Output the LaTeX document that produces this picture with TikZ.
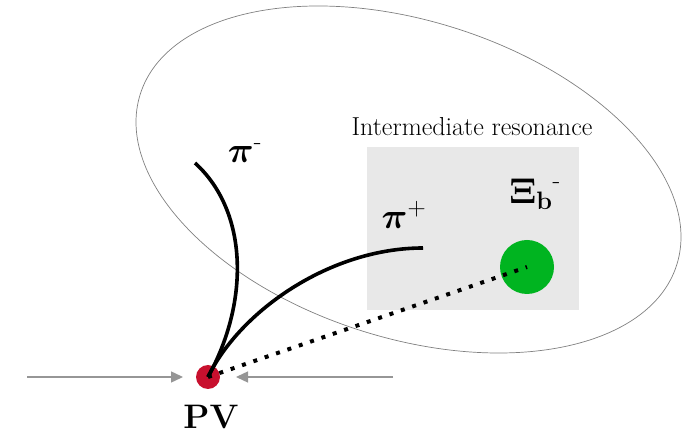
\RequirePackage{fix-cm}
\documentclass[tikz,border=0pt]{standalone}
\usepackage{amsmath, amssymb}
\usepackage{bm}
\usepackage{tikz}
\usetikzlibrary{arrows.meta,positioning}

\begin{document}
\begin{tikzpicture}[x=1pt,y=1pt]
    % Colors and styles
    \definecolor{pvred}{RGB}{200, 16, 46} % vertex red
    \definecolor{xigreen}{RGB}{0, 180, 32} % resonance green
    \definecolor{boxgray}{RGB}{232, 232, 232}
    \definecolor{beamgray}{RGB}{150, 150, 150}
    \tikzset{
        track/.style={black, line width=3.6pt},
        beam/.style={beamgray, line width=1.4pt, -{Triangle[length=12pt,width=11pt]}},
        bigmath/.style={font=\fontsize{36}{42}\selectfont, inner sep=0pt}
    }
    \useasboundingbox (0,0) rectangle (692,441);

    % Decay region
    \draw[gray, line width=0.7pt, rotate around={-17.7:(408.5,261.5)}] (408.5,261.5) ellipse (281.5 and 158.4);

    % Intermediate resonance box
    \node[fill=boxgray, minimum width=212pt, minimum height=163pt, inner sep=0pt] (res) at (473,212.5) {};
    \node[anchor=base, font=\fontsize{26}{30}\selectfont, inner sep=0pt] (restext) at (472,305) {Intermediate resonance};

    % Vertices
    \node[circle, fill=pvred, minimum size=24pt, inner sep=0pt] (pv) at (208,64) {};
    \node[circle, fill=xigreen, minimum size=54pt, inner sep=0pt] (xi) at (527,174) {};
    \node[font=\fontsize{34}{40}\selectfont\bfseries, inner sep=0pt] (pvtext) at (211,24) {PV};

    % Pion tracks
    \coordinate (pimend) at (195,278);
    \coordinate (pipend) at (423,193);
    \draw[track] (pv.center) .. controls (250,140) and (248,230) .. (pimend);
    \draw[track] (pv.center) .. controls (240,130) and (330,193) .. (pipend);
    \node[bigmath] (pimtext) at (245,288) {$\bm{\pi}^{\text{-}}$};
    \node[bigmath] (piptext) at (404,226) {$\bm{\pi}^{+}$};
    \node[bigmath] (xitext) at (535,247) {${\bm{\Xi}_{\mathbf{b}}}^{\text{-}}$};

    % Flight path
    \draw[black, line width=4pt, dash pattern=on 4pt off 8pt] (pv.center) -- (xi.center);

    % Beams
    \coordinate (beaml) at (27,64);
    \coordinate (beamr) at (393,64);
    \coordinate (tipl) at (183,64);
    \coordinate (tipr) at (236,64);
    \draw[beam] (beaml) -- (tipl);
    \draw[beam] (beamr) -- (tipr);

\end{tikzpicture}
\end{document}
